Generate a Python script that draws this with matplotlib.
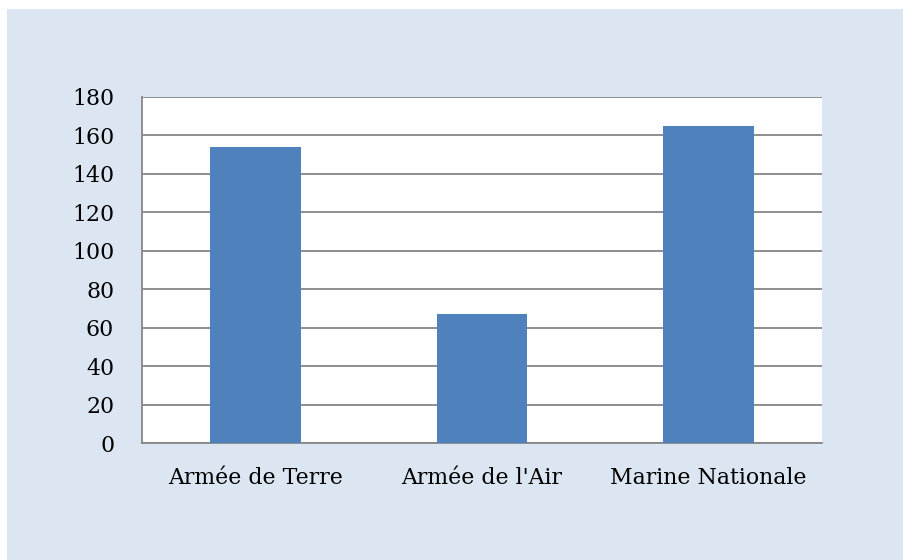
import matplotlib
matplotlib.use("Agg")
import matplotlib.pyplot as plt
from matplotlib.patches import Rectangle

categories = ["Armée de Terre", "Armée de l'Air", "Marine Nationale"]
values = [154, 67, 165]
yticks = [0, 20, 40, 60, 80, 100, 120, 140, 160, 180]

plt.rcParams['font.family'] = ['DejaVu Serif']

fig = plt.figure(figsize=(9.04, 5.6), dpi=100)
fig.patch.set_facecolor('white')
bg = Rectangle((7/904, 0), 896/904, 1 - 9/560, transform=fig.transFigure,
               facecolor='#dce6f2', edgecolor='none', zorder=-10)
fig.add_artist(bg)

ax = fig.add_axes([142/904, 1 - 443/560, 680/904, 346/560])
ax.set_zorder(5)
ax.set_facecolor('white')
x = range(len(categories))
ax.bar(x, values, width=0.4, color='#4f81bd', zorder=3)
ax.set_xlim(-0.5, len(categories) - 0.5)
ax.set_ylim(0, 180)
ax.set_yticks(yticks)
ax.set_xticks(list(x))
ax.set_xticklabels(categories)
ax.yaxis.grid(True, color='#868686', linewidth=1.3, zorder=1)
ax.set_axisbelow(True)
for s in ['top', 'right']:
    ax.spines[s].set_visible(False)
for s in ['left', 'bottom']:
    ax.spines[s].set_color('#868686')
    ax.spines[s].set_linewidth(1.3)
ax.tick_params(axis='y', length=0, pad=20, labelsize=15.8)
ax.tick_params(axis='x', length=0, pad=17.5, labelsize=15.8)

fig.savefig('out.png', dpi=100)
